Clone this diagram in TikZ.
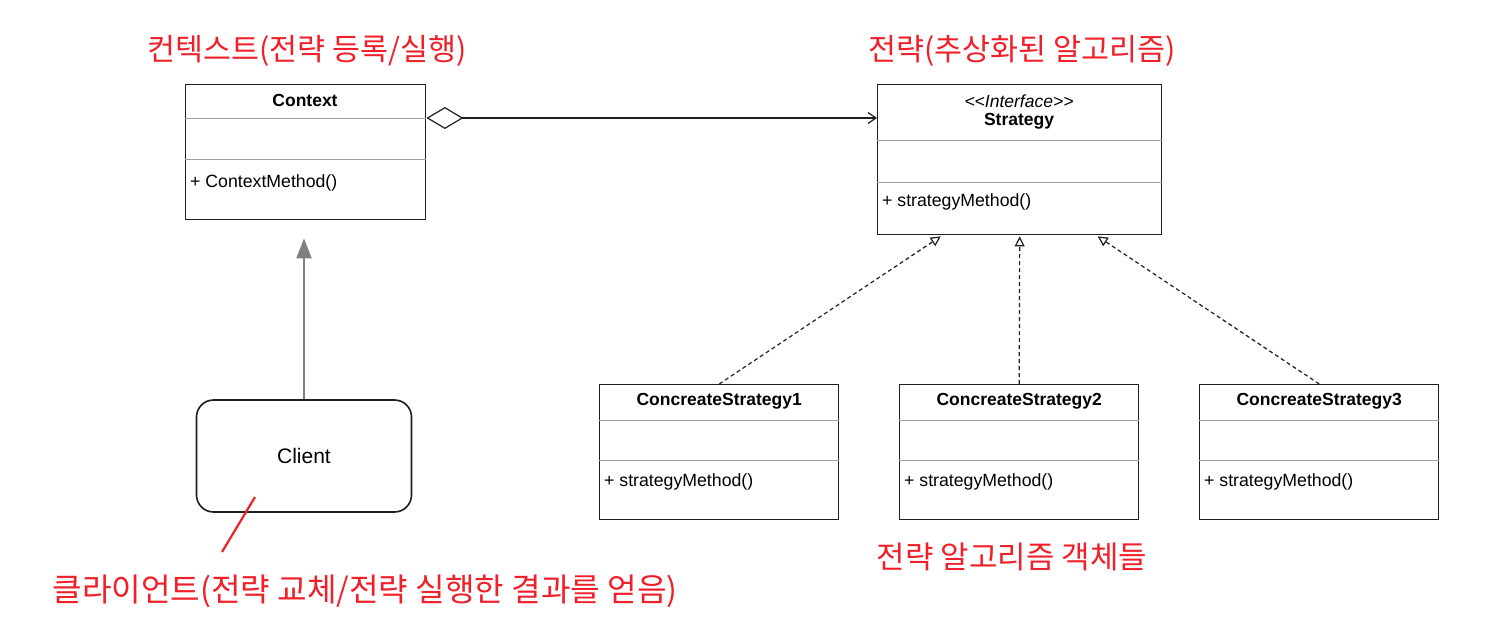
\documentclass[tikz,border=0pt]{standalone}
\usepackage{fontspec}
\setmainfont{Liberation Sans}
\newfontfamily\krfont{Noto Sans CJK KR}
\usetikzlibrary{arrows.meta,calc}
\definecolor{boxline}{HTML}{1E1E1E}
\definecolor{divline}{HTML}{A0A0A0}
\definecolor{annored}{HTML}{F0202A}
\definecolor{clientarrow}{HTML}{808080}
\begin{document}
\begin{tikzpicture}[x=1pt,y=-1pt,
  umlbox/.style={draw=boxline,line width=1.4pt,fill=white,anchor=north west,inner sep=0pt},
  divider/.style={draw=divline,line width=1pt},
  titletxt/.style={font=\fontsize{17.5}{20}\selectfont\bfseries,inner sep=0pt},
  membertxt/.style={font=\fontsize{17.7}{20}\selectfont,inner sep=0pt,anchor=west},
  stereotxt/.style={font=\fontsize{17.5}{20}\selectfont\itshape,inner sep=0pt},
  redtxt/.style={text=annored,inner sep=0pt,font=\krfont},
  aggarrow/.style={draw=boxline,line width=1.2pt,{Diamond[open,length=37pt,width=22pt,line width=1.2pt]}-{Straight Barb[length=8pt,width=11pt,line width=1.2pt]}},
  realarrow/.style={draw=boxline,line width=1.2pt,dash pattern=on 4pt off 3pt,-{Triangle[open,length=10pt,width=10pt,fill=white,line width=1.2pt,sep=0pt]}},
  useArrow/.style={draw=clientarrow,line width=2.2pt,-{Triangle[length=20pt,width=15pt]}}
]
\useasboundingbox[fill=white] (0,0) rectangle (1488,623);

% Context
\node[umlbox,minimum width=240pt,minimum height=135pt] (ctx) at (185,84) {};
\draw[divider] ([yshift=-35pt]ctx.north west) -- ([yshift=-35pt]ctx.north east);
\draw[divider] ([yshift=-75pt]ctx.north west) -- ([yshift=-75pt]ctx.north east);
\node[titletxt] (ctxT) at (305,100) {Context};
\node[membertxt] (ctxM) at (190,183) {+ ContextMethod()};

% Strategy
\node[umlbox,minimum width=284pt,minimum height=150pt] (str) at (877,84) {};
\draw[divider] ([yshift=-57pt]str.north west) -- ([yshift=-57pt]str.north east);
\draw[divider] ([yshift=-98pt]str.north west) -- ([yshift=-98pt]str.north east);
\node[stereotxt] (strS) at (1019,101) {<\kern0pt<Interface>\kern0pt>};
\node[titletxt] (strT) at (1019,121) {Strategy};
\node[membertxt] (strM) at (882,202) {+ strategyMethod()};

% Concrete strategies
\foreach \n/\x in {1/599,2/899,3/1199}{
  \node[umlbox,minimum width=239pt,minimum height=135pt] (c\n) at (\x,384) {};
  \draw[divider] ([yshift=-36pt]c\n.north west) -- ([yshift=-36pt]c\n.north east);
  \draw[divider] ([yshift=-76pt]c\n.north west) -- ([yshift=-76pt]c\n.north east);
  \node[titletxt] (c\n T) at ($(c\n.north)+(0,17)$) {ConcreateStrategy\n};
  \node[membertxt] (c\n M) at ($(c\n.north west)+(5,98)$) {+ strategyMethod()};
}

% Client
\node[draw=boxline,line width=1.6pt,rounded corners=17pt,minimum width=215pt,minimum height=112pt,inner sep=0pt,
  font=\fontsize{21}{24}\selectfont] (cl) at (304,456) {Client};

% Connectors
\draw[aggarrow] ([yshift=-34pt]ctx.north east) -- ([yshift=-34pt]str.north west);
\draw[useArrow] (cl.north) -- ([yshift=-18pt]ctx.south -| cl.north);
\draw[realarrow] (c1.north) -- ([xshift=-79pt,yshift=-1pt]str.south);
\draw[realarrow] (c2.north) -- ([yshift=-1pt]str.south);
\draw[realarrow] (c3.north) -- ([xshift=78pt,yshift=-1pt]str.south);

% Red annotations
\node[redtxt] (t1) at (307,51) {\resizebox{319pt}{!}{컨텍스트(전략 등록/실행)}};
\node[redtxt] (t2) at (1022,51) {\resizebox{307pt}{!}{전략(추상화된 알고리즘)}};
\node[redtxt] (t3) at (1012,557) {\resizebox{270pt}{!}{전략 알고리즘 객체들}};
\node[redtxt] (t4) at (365,591) {\resizebox{625pt}{!}{클라이언트(전략 교체/전략 실행한 결과를 얻음)}};
\coordinate (pA) at (255,497);
\coordinate (pB) at (222,552);
\draw[draw=annored,line width=2.2pt] (pA) -- (pB);
\end{tikzpicture}
\end{document}
